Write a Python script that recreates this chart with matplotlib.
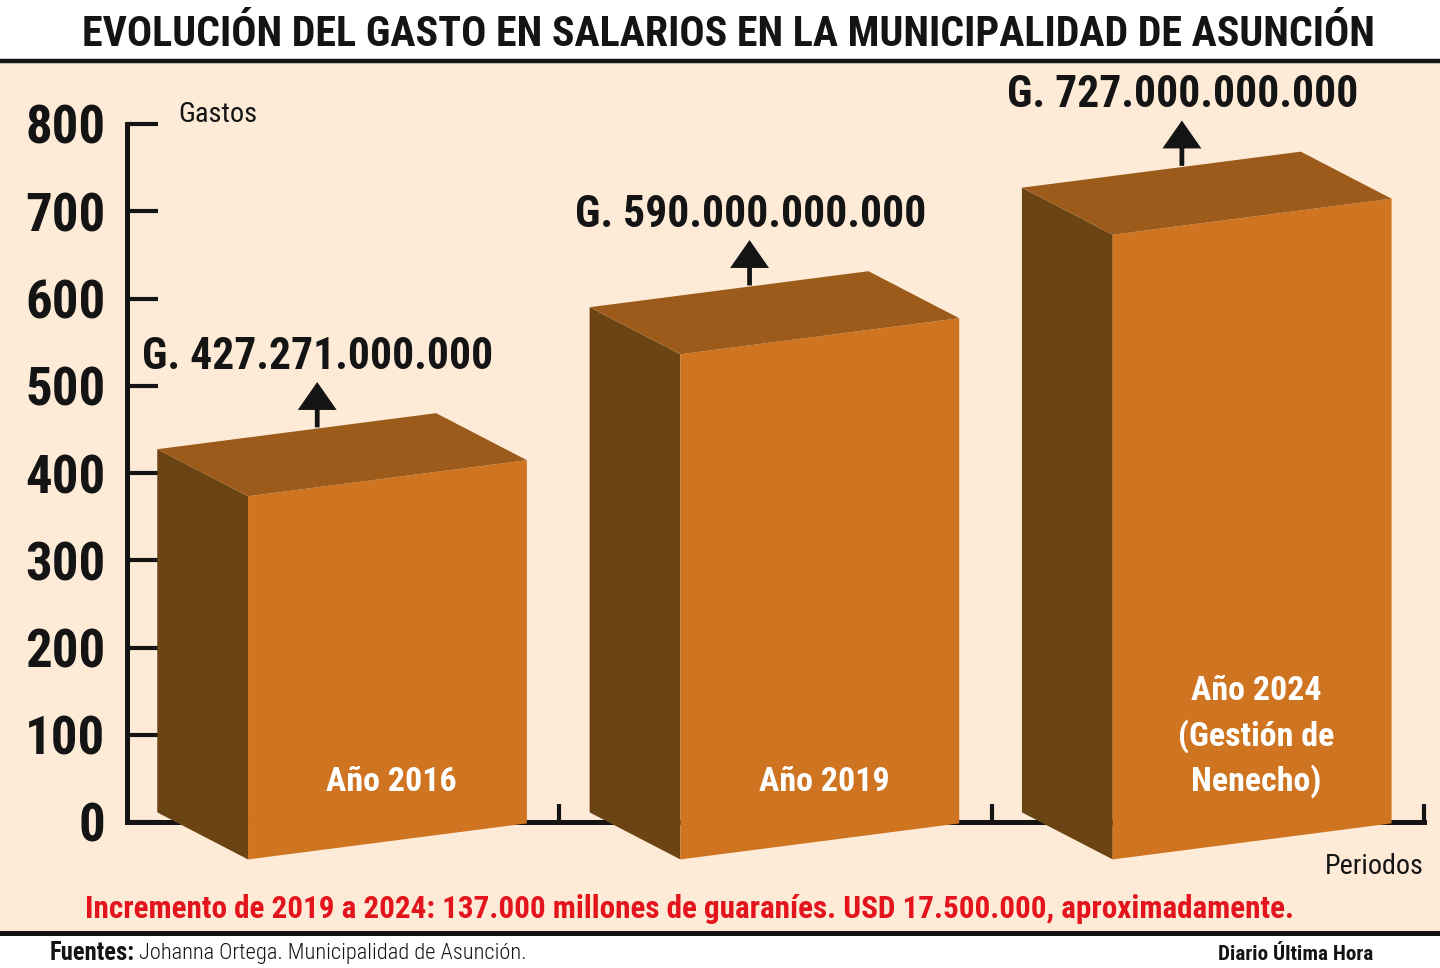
import matplotlib
matplotlib.use('Agg')
import matplotlib.pyplot as plt
from matplotlib.patches import Polygon, Rectangle, FancyArrow
from matplotlib.lines import Line2D
from matplotlib import font_manager as fm

# fuente angosta si hay alguna
names = {f.name for f in fm.fontManager.ttflist}
narrow = 'DejaVu Sans'
for cand in ['Roboto Condensed', 'Liberation Sans Narrow', 'Open Sans Condensed', 'Noto Sans Condensed']:
    if cand in names:
        narrow = cand
        break
stretch = 'normal'
if narrow == 'DejaVu Sans' and any(f.name == 'DejaVu Sans' and f.stretch == 'condensed'
                                   for f in fm.fontManager.ttflist):
    stretch = 'condensed'
plt.rcParams['font.family'] = [narrow, 'DejaVu Sans']
plt.rcParams['font.stretch'] = stretch

# datos (miles de millones de guaraníes)
periodos = ['Año 2016', 'Año 2019', 'Año 2024\n(Gestión de\nNenecho)']
gastos = [427.271, 590, 727]
etiquetas = ['G. 427.271.000.000', 'G. 590.000.000.000', 'G. 727.000.000.000']
y_ticks = [0, 100, 200, 300, 400, 500, 600, 700, 800]

titulo = 'EVOLUCIÓN DEL GASTO EN SALARIOS EN LA MUNICIPALIDAD DE ASUNCIÓN'
nota = ('Incremento de 2019 a 2024: 137.000 millones de guaraníes. '
        'USD 17.500.000, aproximadamente.')

FRONT = '#CF7421'
TOP = '#9C5B1A'
SIDE = '#6B4414'
BG = '#FDEBD8'
INK = '#141414'

W, H = 1440, 968
fig = plt.figure(figsize=(W / 100, H / 100), dpi=100, facecolor='white')
renderer = fig.canvas.get_renderer()


def fy(y):
    return 1 - y / H


def fit(t, width):
    w = t.get_window_extent(renderer).width
    t.set_fontsize(t.get_fontsize() * width / w)


# fondo y lineas
fig.patches.append(Rectangle((0, fy(932)), 1, (932 - 62) / H, transform=fig.transFigure,
                             color=BG, zorder=-5))
fig.add_artist(Line2D([0, 1], [fy(61), fy(61)], lw=3.2, color=INK))
fig.add_artist(Line2D([0, 1], [fy(933), fy(933)], lw=3.6, color=INK))

t = fig.text(728 / W, fy(34), titulo, ha='center', va='center', fontsize=40,
             fontweight='bold', color=INK)
fit(t, 1293)

# ejes
ax = fig.add_axes([127 / W, fy(822), (1424 - 127) / W, (822 - 124) / H])
ax.set_facecolor('none')
ax.set_xlim(0, 3)
ax.set_ylim(0, 800)
for s in ['top', 'right']:
    ax.spines[s].set_visible(False)
for s in ['left', 'bottom']:
    ax.spines[s].set_linewidth(3.6)
    ax.spines[s].set_color(INK)
    ax.spines[s].set_capstyle('projecting')
    ax.spines[s].set_zorder(1)
ax.set_yticks(y_ticks)
ax.set_yticklabels([str(v) for v in y_ticks], fontweight='bold')
ax.tick_params(axis='y', direction='in', length=22, width=3, color=INK,
               labelsize=38, pad=15.5, labelcolor=INK)
ax.set_xticks([1, 2, 3])
ax.set_xticklabels([])
ax.tick_params(axis='x', direction='in', length=13, width=3, color=INK)

# cajas 3D
dx_side, dy_side = 0.21, -53.9
w_front, dy_front = 0.645, 41.3
base = 11
for i, v in enumerate(gastos):
    x0 = i + 0.07
    A = (x0, v)
    B = (x0 + dx_side, v + dy_side)
    C = (B[0] + w_front, B[1] + dy_front)
    D = (x0 + w_front, v + dy_front)
    A2 = (x0, base)
    B2 = (B[0], base + dy_side)
    C2 = (C[0], base + dy_side + dy_front)
    ax.add_patch(Polygon([A, B, B2, A2], closed=True, fc=SIDE, ec='none', zorder=3, clip_on=False))
    ax.add_patch(Polygon([B, C, C2, B2], closed=True, fc=FRONT, ec='none', zorder=3, clip_on=False))
    ax.add_patch(Polygon([A, B, C, D], closed=True, fc=TOP, ec='none', zorder=3, clip_on=False))

    xa = x0 + 0.37
    ax.add_patch(FancyArrow(xa, v + 25, 0, 52, width=0.011, head_width=0.09,
                            head_length=32, length_includes_head=True,
                            fc=INK, ec='none', zorder=4, clip_on=False))
    t = ax.text(x0 + 0.372, v + 106, etiquetas[i], ha='center', va='center', fontsize=36,
                fontweight='bold', color=INK, clip_on=False)
    fit(t, 352)

    ax.text(B[0] + w_front / 2 + 0.01, 27, periodos[i], ha='center', va='bottom', fontsize=24.5,
            fontweight='bold', color='white', linespacing=1.45, zorder=5)

t = fig.text(178 / W, fy(115), 'Gastos', ha='left', va='center', fontsize=24, color=INK)
fit(t, 79)
t = fig.text(1424 / W, fy(866), 'Periodos', ha='right', va='center', fontsize=24, color=INK)
fit(t, 99)

t = fig.text(85 / W, fy(909), nota, ha='left', va='center', fontsize=26,
             fontweight='bold', color='#E3141C')
fit(t, 1211)

# pie
t1 = fig.text(50 / W, fy(953), 'Fuentes:', ha='left', va='center', fontsize=20,
              fontweight='bold', color=INK)
fit(t1, 85)
x1 = t1.get_window_extent(renderer).x1
t2 = fig.text(x1 / W + 4 / W, fy(953), 'Johanna Ortega. Municipalidad de Asunción.',
              ha='left', va='center', fontsize=20, fontweight='light', color=INK)
fit(t2, 386)
t = fig.text(1373 / W, fy(954), 'Diario Última Hora', ha='right', va='center', fontsize=16,
             fontweight='bold', color=INK)
fit(t, 155)

fig.savefig('out.png', dpi=100, facecolor='white')
